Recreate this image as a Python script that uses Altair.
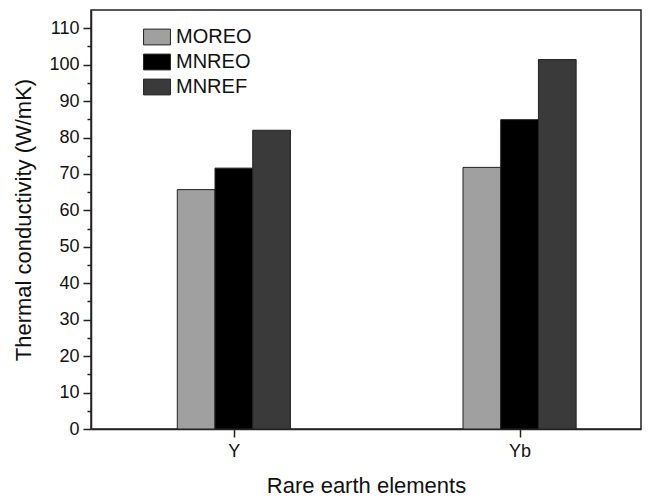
import altair as alt
import pandas as pd

categories = ["Y", "Yb"]
series = ["MOREO", "MNREO", "MNREF"]
values_moreo = [65.7, 71.8]
values_mnreo = [71.6, 84.9]
values_mnref = [82.0, 101.4]
colors = ["#a0a0a0", "#000000", "#3a3a3a"]
y_ticks = list(range(0, 115, 5))

rows = []
for ci, cat in enumerate(categories):
    for si, (name, vals) in enumerate(zip(series, [values_moreo, values_mnreo, values_mnref])):
        rows.append({"cat": cat, "ci": ci + 1, "si": si, "series": name, "value": vals[ci]})
df = pd.DataFrame(rows)

W = 0.132
label_map = "{" + ",".join(f"'{i+1}':'{c}'" for i, c in enumerate(categories)) + "}"

bars = alt.Chart(df).transform_calculate(
    x0=f"datum.ci + (datum.si - 1.5) * {W}",
    x1=f"datum.ci + (datum.si - 0.5) * {W}",
).mark_bar(stroke="#222222", strokeWidth=1).encode(
    x=alt.X("x0:Q", scale=alt.Scale(domain=[0.5, 2.425], nice=False, zero=False),
            axis=alt.Axis(values=[1, 2], labelExpr=f"{label_map}[datum.value]",
                          title="Rare earth elements", tickSize=8, labelPadding=5,
                          titlePadding=15)),
    x2="x1:Q",
    y=alt.Y("value:Q", scale=alt.Scale(domain=[0, 115], nice=False),
            axis=alt.Axis(values=y_ticks,
                          labelExpr="datum.value % 10 === 0 ? datum.label : ''",
                          tickSize={"condition": {"test": "datum.value % 10 === 0", "value": 8}, "value": 4},
                          title="Thermal conductivity (W/mK)", labelPadding=4, titlePadding=13)),
    y2=alt.datum(0),
    color=alt.Color("series:N", sort=series,
                    scale=alt.Scale(domain=series, range=colors),
                    legend=alt.Legend(title=None, orient="none", legendX=56, legendY=17,
                                      symbolType="M-1.7,-1H1.7V1H-1.7Z", symbolSize=250,
                                      symbolStrokeColor="#222222", symbolStrokeWidth=1,
                                      labelFontSize=20, rowPadding=5, labelOffset=9)),
)

chart = bars.properties(
    width=550, height=419,
    autosize=alt.AutoSizeParams(type="none"),
    padding={"left": 83, "top": 2, "right": 8, "bottom": 68},
).configure(font="Liberation Sans").configure_view(
    stroke="#222222", strokeWidth=1.5
).configure_axis(
    grid=False, domainColor="#222222", domainWidth=1.5, tickColor="#222222", tickWidth=1.5,
    labelFontSize=18, labelColor="#111111", titleFontSize=22, titleFontWeight="normal",
    titleColor="#111111", labelFont="Liberation Sans", titleFont="Liberation Sans",
).configure_legend(labelFont="Liberation Sans", labelColor="#111111")

chart.save("out.html", embed_options={"renderer": "svg", "actions": False})
